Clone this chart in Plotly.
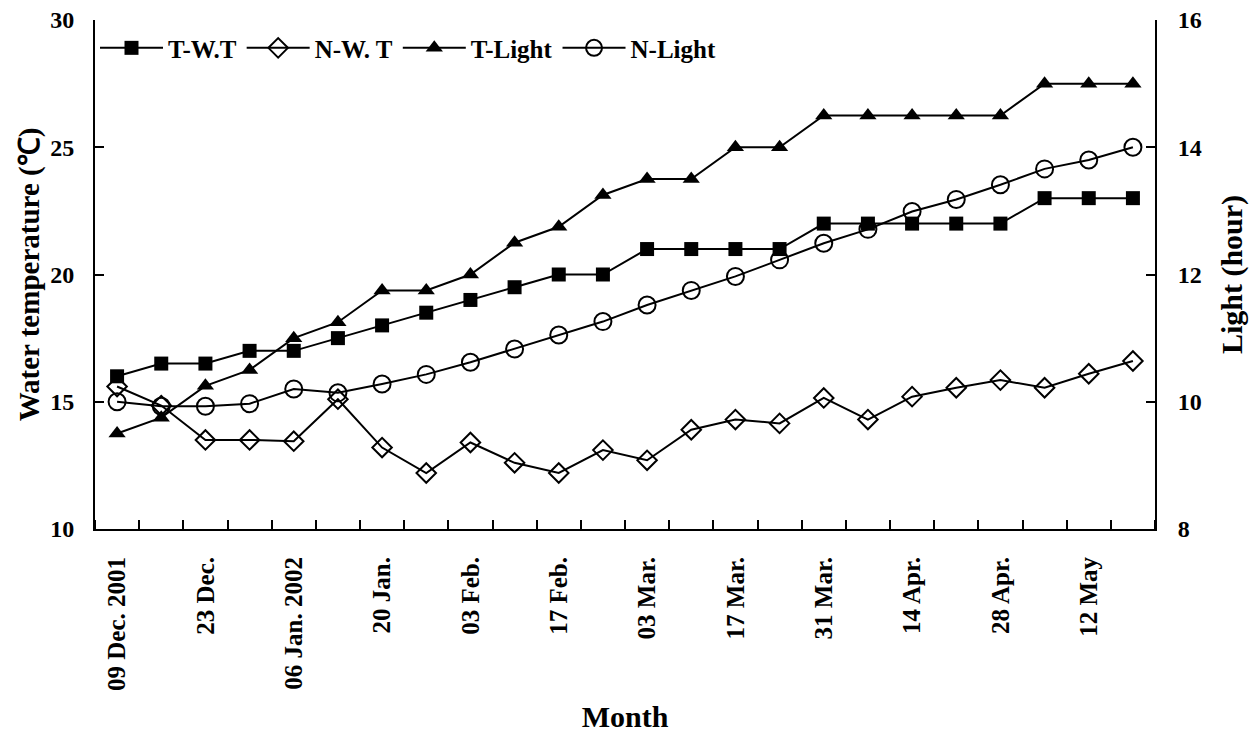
import plotly.graph_objects as go

dates = ["2001-12-09", "2001-12-16", "2001-12-23", "2001-12-30", "2002-01-06", "2002-01-13",
         "2002-01-20", "2002-01-27", "2002-02-03", "2002-02-10", "2002-02-17", "2002-02-24",
         "2002-03-03", "2002-03-10", "2002-03-17", "2002-03-24", "2002-03-31", "2002-04-07",
         "2002-04-14", "2002-04-21", "2002-04-28", "2002-05-05", "2002-05-12", "2002-05-19"]

t_wt = [16, 16.5, 16.5, 17, 17, 17.5, 18, 18.5, 19, 19.5, 20, 20,
        21, 21, 21, 21, 22, 22, 22, 22, 22, 23, 23, 23]
n_wt = [15.6, 14.85, 13.5, 13.5, 13.45, 15.1, 13.2, 12.2, 13.4, 12.6, 12.2, 13.1,
        12.7, 13.9, 14.3, 14.15, 15.15, 14.3, 15.2, 15.55, 15.85, 15.55, 16.1, 16.6]
t_light = [9.5, 9.75, 10.25, 10.5, 11, 11.25, 11.75, 11.75, 12, 12.5, 12.75, 13.25,
           13.5, 13.5, 14, 14, 14.5, 14.5, 14.5, 14.5, 14.5, 15, 15, 15]
n_light = [10.0, 9.93, 9.93, 9.97, 10.2, 10.14, 10.28, 10.43, 10.62, 10.83, 11.05, 11.26,
           11.52, 11.75, 11.97, 12.23, 12.49, 12.71, 12.99, 13.18, 13.41, 13.66, 13.8, 14.0]

tick_dates = ["2001-12-09", "2001-12-23", "2002-01-06", "2002-01-20", "2002-02-03", "2002-02-17",
              "2002-03-03", "2002-03-17", "2002-03-31", "2002-04-14", "2002-04-28", "2002-05-12"]
tick_text = ["09 Dec. 2001", "23 Dec.", "06 Jan. 2002", "20 Jan.", "03 Feb.", "17 Feb.",
             "03 Mar.", "17 Mar.", "31 Mar.", "14 Apr.", "28 Apr.", "12 May"]

FONT = "Liberation Serif, Times New Roman, serif"
BLACK = "#000000"

fig = go.Figure()
line = dict(color=BLACK, width=2)
fig.add_trace(go.Scatter(x=dates, y=t_wt, name="T-W.T", mode="lines+markers", line=line,
                         marker=dict(symbol="square", size=14, color=BLACK)))
fig.add_trace(go.Scatter(x=dates, y=n_wt, name="N-W. T", mode="lines+markers", line=line,
                         marker=dict(symbol="diamond-open", size=15, color=BLACK, line=dict(width=2, color=BLACK))))
fig.add_trace(go.Scatter(x=dates, y=t_light, name="T-Light", mode="lines+markers", line=line,
                         marker=dict(symbol="triangle-up", size=15, color=BLACK), yaxis="y2"))
fig.add_trace(go.Scatter(x=dates, y=n_light, name="N-Light", mode="lines+markers", line=line,
                         marker=dict(symbol="circle-open", size=17, color=BLACK, line=dict(width=2, color=BLACK)),
                         yaxis="y2"))

fig.update_layout(
    width=1260, height=735,
    margin=dict(l=95, r=105, t=20, b=206),
    paper_bgcolor="white", plot_bgcolor="white",
    font=dict(family=FONT, size=24, color=BLACK, weight="bold"),
    showlegend=True,
    legend=dict(orientation="h", x=0.0, y=0.99, xanchor="left", yanchor="top",
                bgcolor="rgba(0,0,0,0)", font=dict(size=25, family=FONT, weight="bold"),
                itemwidth=63, tracegroupgap=0),
    xaxis=dict(
        type="date", automargin=False,
        range=["2001-12-05 12:00", "2002-05-22 12:00"],
        tickmode="array", tickvals=tick_dates, ticktext=tick_text,
        tickangle=-90, ticks="", showgrid=False, zeroline=False,
        showline=True, linecolor=BLACK, linewidth=2,
        ticklabelstandoff=16,
        tickfont=dict(size=25, family=FONT, weight="bold"),
        minor=dict(tickmode="linear", tick0="2001-12-12 12:00", dtick=7 * 86400000,
                   ticks="inside", ticklen=9, tickwidth=2, tickcolor=BLACK, showgrid=False),
        title=dict(text="Month", font=dict(size=30, family=FONT, weight="bold"), standoff=16),
    ),
    yaxis=dict(
        range=[10, 30], dtick=5, tick0=10, ticks="inside", ticklen=9, tickwidth=2, tickcolor=BLACK,
        showgrid=False, zeroline=False, showline=True, linecolor=BLACK, linewidth=2,
        ticklabelstandoff=14, automargin=False,
        tickfont=dict(size=24, family=FONT, weight="bold"),
        title=dict(text="Water temperature (℃)", font=dict(size=29, family=FONT, weight="bold"), standoff=2),
    ),
    yaxis2=dict(
        range=[8, 16], dtick=2, tick0=8, ticks="inside", ticklen=9, tickwidth=2, tickcolor=BLACK,
        overlaying="y", side="right", anchor="x",
        showgrid=False, zeroline=False, showline=True, linecolor=BLACK, linewidth=2,
        ticklabelstandoff=16, automargin=False,
        tickfont=dict(size=24, family=FONT, weight="bold"),
        title=dict(text="Light (hour)", font=dict(size=30, family=FONT, weight="bold"), standoff=20),
    ),
)

fig.write_html("out.html")
